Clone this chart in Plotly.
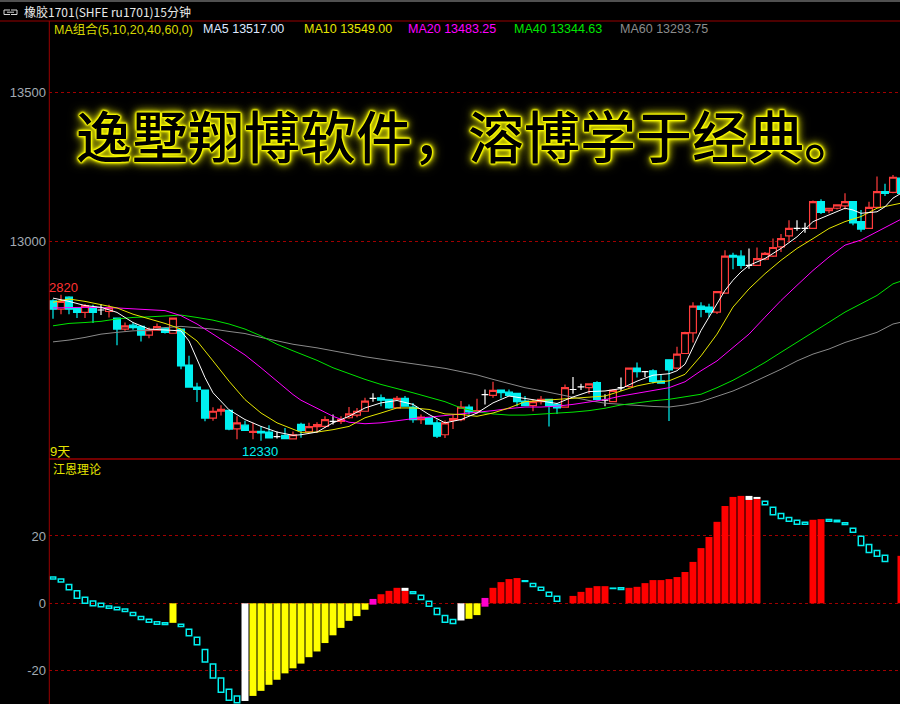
import plotly.graph_objects as go

W, H = 900, 704

# ---------------- price data: 15-minute bars of ru1701 ----------------
opens = [12800, 12772, 12812, 12776, 12761, 12778, 12769, 12764, 12742, 12705,
         12718, 12714, 12685, 12701, 12708, 12691, 12705, 12584, 12510, 12500,
         12406, 12429, 12432, 12370, 12382, 12358, 12361, 12359, 12344, 12348,
         12336, 12385, 12360, 12377, 12378, 12395, 12395, 12407, 12416, 12429,
         12472, 12474, 12469, 12440, 12472, 12443, 12401, 12407, 12390, 12350,
         12398, 12401, 12443, 12426, 12485, 12482, 12500, 12493, 12489, 12463,
         12448, 12461, 12469, 12452, 12443, 12502, 12511, 12508, 12525, 12466,
         12461, 12508, 12512, 12574, 12562, 12565, 12531, 12602, 12574, 12623,
         12692, 12782, 12779, 12762, 12826, 12953, 12950, 12919, 12919, 12940,
         12950, 12981, 13018, 13043, 13043, 13043, 13133, 13103, 13111, 13119,
         13133, 13066, 13043, 13114, 13167, 13164, 13212]
highs = [12805, 12820, 12815, 12778, 12789, 12787, 12789, 12787, 12742, 12727,
         12727, 12714, 12710, 12724, 12708, 12742, 12705, 12615, 12525, 12502,
         12442, 12449, 12432, 12412, 12397, 12390, 12378, 12382, 12361, 12373,
         12361, 12390, 12390, 12392, 12412, 12418, 12412, 12443, 12440, 12474,
         12489, 12485, 12469, 12480, 12480, 12457, 12418, 12407, 12401, 12398,
         12416, 12463, 12452, 12471, 12502, 12528, 12502, 12502, 12489, 12480,
         12469, 12480, 12469, 12457, 12519, 12544, 12521, 12521, 12530, 12486,
         12503, 12542, 12576, 12593, 12562, 12570, 12553, 12602, 12646, 12696,
         12795, 12795, 12790, 12831, 12970, 12961, 12970, 12976, 12979, 12964,
         13009, 13024, 13071, 13071, 13062, 13137, 13141, 13111, 13122, 13161,
         13133, 13105, 13133, 13218, 13193, 13223, 13215]
lows = [12740, 12755, 12755, 12742, 12742, 12725, 12752, 12744, 12651, 12699,
        12703, 12663, 12674, 12699, 12690, 12691, 12570, 12510, 12460, 12395,
        12397, 12415, 12365, 12335, 12364, 12335, 12330, 12337, 12337, 12335,
        12336, 12340, 12355, 12356, 12373, 12384, 12386, 12404, 12409, 12429,
        12461, 12446, 12437, 12438, 12446, 12390, 12386, 12384, 12339, 12339,
        12369, 12395, 12418, 12420, 12452, 12474, 12472, 12480, 12446, 12446,
        12429, 12452, 12378, 12420, 12443, 12488, 12500, 12488, 12465, 12446,
        12461, 12497, 12508, 12542, 12544, 12522, 12522, 12396, 12570, 12621,
        12660, 12745, 12745, 12756, 12826, 12906, 12908, 12908, 12919, 12936,
        12947, 12964, 12998, 13035, 13029, 13043, 13092, 13094, 13107, 13107,
        13054, 13032, 13043, 13114, 13152, 13161, 13160]
closes = [12772, 12798, 12772, 12761, 12784, 12761, 12769, 12776, 12705, 12716,
          12710, 12685, 12703, 12713, 12694, 12742, 12581, 12510, 12502, 12406,
          12429, 12435, 12369, 12390, 12365, 12361, 12356, 12339, 12344, 12337,
          12350, 12365, 12377, 12384, 12401, 12395, 12401, 12420, 12429, 12463,
          12472, 12466, 12440, 12472, 12446, 12401, 12409, 12386, 12345, 12390,
          12404, 12443, 12427, 12431, 12485, 12499, 12491, 12482, 12461, 12448,
          12461, 12469, 12448, 12440, 12508, 12502, 12511, 12521, 12469, 12466,
          12499, 12508, 12574, 12562, 12562, 12529, 12523, 12568, 12621, 12693,
          12782, 12771, 12762, 12831, 12950, 12947, 12919, 12919, 12942, 12959,
          12979, 13009, 13043, 13043, 13043, 13133, 13097, 13111, 13122, 13133,
          13062, 13041, 13114, 13167, 13161, 13215, 13161]

# ---------------- moving averages ----------------
ma5_x = [0, 2, 4, 6, 8, 10, 12, 14, 16, 17, 18, 19, 20, 22, 24, 26, 28, 30, 31, 33,
         35, 37, 39, 41, 43, 45, 47, 49, 51, 53, 55, 57, 59, 61, 63, 65, 67, 69, 71, 73,
         75, 77, 78, 79, 80, 81, 82, 83, 84, 85, 86, 87, 89, 91, 93, 95, 97, 99, 100, 101,
         103, 104, 105, 106]
ma5_y = [12809, 12798, 12784, 12778, 12761, 12727, 12705, 12701, 12699, 12665, 12603, 12542,
         12491, 12434, 12401, 12378, 12359, 12348, 12350, 12359, 12390, 12412, 12440, 12457,
         12465, 12452, 12418, 12390, 12401, 12423, 12457, 12480, 12472, 12463, 12455, 12477,
         12495, 12497, 12505, 12530, 12550, 12555, 12565, 12587, 12643, 12700, 12745, 12790,
         12835, 12869, 12897, 12919, 12942, 12976, 13015, 13066, 13088, 13111, 13105, 13094,
         13099, 13116, 13145, 13161]

ma10_x = [0, 2, 4, 6, 8, 10, 12, 14, 16, 18, 20, 22, 24, 26, 28, 30, 31, 33, 35, 37,
          39, 41, 43, 45, 47, 49, 51, 53, 55, 57, 59, 61, 63, 65, 67, 69, 71, 73, 75, 77,
          79, 81, 83, 85, 87, 89, 91, 93, 95, 97, 99, 101, 103, 105, 106]
ma10_y = [12795, 12806, 12798, 12787, 12776, 12755, 12739, 12724, 12705, 12665, 12598, 12530,
          12468, 12423, 12390, 12367, 12358, 12359, 12367, 12378, 12407, 12423, 12440, 12440,
          12435, 12420, 12418, 12412, 12423, 12440, 12461, 12465, 12469, 12472, 12476, 12480,
          12497, 12514, 12525, 12531, 12553, 12615, 12688, 12779, 12840, 12891, 12936, 12976,
          13009, 13043, 13066, 13083, 13111, 13122, 13128]

ma20_x = [0, 4, 8, 12, 14, 16, 18, 20, 22, 24, 26, 28, 30, 31, 33, 35, 37, 39, 41, 43,
          45, 47, 49, 51, 53, 55, 57, 59, 61, 63, 65, 67, 69, 71, 73, 75, 77, 79, 81, 83,
          85, 87, 89, 91, 93, 95, 97, 99, 101, 103, 105, 106]
ma20_y = [12776, 12778, 12776, 12769, 12767, 12750, 12722, 12688, 12654, 12618, 12575, 12530,
          12485, 12466, 12440, 12412, 12392, 12387, 12390, 12398, 12404, 12409, 12414, 12420,
          12426, 12431, 12438, 12443, 12443, 12446, 12452, 12461, 12468, 12480, 12490, 12499,
          12508, 12528, 12565, 12598, 12643, 12688, 12745, 12801, 12852, 12902, 12947, 12987,
          13004, 13032, 13060, 13074]

ma40_x = [0, 2, 4, 6, 8, 10, 12, 14, 16, 18, 20, 22, 24, 26, 28, 30, 31, 33, 35, 37,
          39, 41, 43, 45, 47, 49, 51, 53, 55, 57, 59, 61, 63, 65, 67, 69, 71, 73, 75, 77,
          79, 81, 83, 85, 87, 89, 91, 93, 95, 97, 99, 101, 103, 105, 106]
ma40_y = [12716, 12724, 12727, 12731, 12739, 12744, 12746, 12750, 12752, 12744, 12735, 12722,
          12705, 12682, 12654, 12632, 12622, 12600, 12575, 12555, 12536, 12519, 12506, 12491,
          12476, 12461, 12440, 12427, 12420, 12416, 12416, 12419, 12421, 12426, 12431, 12439,
          12450, 12458, 12464, 12469, 12477, 12486, 12508, 12533, 12562, 12593, 12627, 12660,
          12694, 12728, 12762, 12790, 12818, 12857, 12866]

ma60_x = [0, 2, 4, 6, 8, 10, 12, 14, 16, 18, 20, 22, 24, 26, 28, 30, 33, 36, 39, 42,
          45, 47, 49, 51, 53, 55, 57, 59, 61, 63, 65, 67, 69, 71, 73, 75, 77, 79, 81, 83,
          85, 87, 89, 91, 93, 95, 97, 99, 101, 103, 105, 106]
ma60_y = [12662, 12668, 12677, 12688, 12694, 12699, 12701, 12710, 12714, 12710, 12705, 12697,
          12690, 12677, 12665, 12654, 12642, 12627, 12612, 12600, 12589, 12581, 12573, 12562,
          12551, 12536, 12521, 12508, 12498, 12487, 12475, 12465, 12456, 12452, 12448, 12445,
          12443, 12450, 12461, 12480, 12497, 12520, 12544, 12570, 12598, 12621, 12638, 12660,
          12677, 12694, 12722, 12728]

# ---------------- 江恩理论 indicator ----------------
red_x = [41, 42, 43, 44, 55, 56, 57, 58, 65, 66, 67, 68, 69, 72, 73, 74, 75, 76, 77, 78,
         79, 80, 81, 82, 83, 84, 85, 86, 87, 88, 95, 96, 106]
red_v = [2.7, 3.7, 4.6, 3.7, 4.6, 6.3, 7.2, 7.5, 2.2, 3.4, 4.6, 5.1, 5.1, 4.6, 4.9, 6.0,
         6.9, 6.9, 7.2, 7.8, 9.3, 12.3, 16.4, 19.7, 24.2, 28.9, 31.6, 31.9, 30.7, 31.0,
         24.8, 25.0, 14.1]
cap_x = [44, 87, 88]
cap_lo = [3.7, 30.7, 31.0]
cap_hi = [4.6, 31.9, 31.6]
white_x = [24, 51]
white_v = [-29.0, -5.1]
yellow_x = [15, 25, 26, 27, 28, 29, 30, 31, 32, 33, 34, 35, 36, 37, 38, 39, 52, 53]
yellow_v = [-5.8, -27.5, -26.0, -24.2, -22.7, -20.8, -19.3, -17.9, -16.0, -14.3, -11.8,
            -9.5, -7.3, -5.2, -3.8, -1.9, -4.6, -3.5]
mag_x = [40, 54]
mag_hi = [1.3, 1.6]
mag_lo = [-0.4, -1.0]
box_x = [0, 1, 2, 3, 4, 5, 6, 7, 8, 9, 10, 11, 12, 13, 14, 16, 17, 18, 19, 20, 21, 22, 23,
         45, 46, 47, 48, 49, 50, 59, 60, 61, 62, 63, 70, 71,
         89, 90, 91, 92, 93, 94, 97, 98, 99, 100, 101, 102, 103, 104]
box_hi = [7.8, 7.2, 5.6, 3.7, 1.8, 0.7, 0.0, -0.8, -1.2, -1.7, -2.7, -3.9, -4.7, -5.5, -5.8,
          -6.2, -7.7, -10.1, -13.7, -18.0, -22.2, -25.5, -27.5,
          3.4, 2.4, 0.6, -1.5, -3.6, -4.8, 6.7, 5.9, 4.8, 3.3, 2.1, 4.5, 4.6,
          30.3, 28.5, 26.7, 25.5, 24.7, 24.1, 24.9, 24.7, 23.9, 22.3, 19.9, 17.5, 15.7, 14.3]
box_lo = [7.2, 6.3, 4.0, 1.5, 0.0, -0.7, -1.0, -1.5, -1.9, -2.4, -3.6, -4.8, -5.6, -6.2, -6.3,
          -6.9, -9.6, -12.3, -17.4, -22.2, -26.4, -28.8, -29.5,
          2.9, 1.1, -0.9, -3.3, -5.6, -6.0, 6.5, 5.0, 3.9, 2.1, 0.6, 4.4, 4.1,
          29.3, 26.3, 25.2, 24.4, 23.5, 23.5, 24.4, 24.2, 23.4, 21.1, 17.2, 15.1, 14.0, 12.4]

price_ticks = [13000, 13500]
gann_ticks = [-20, 0, 20]

# ---------------- colours ----------------
RED = "#ff3c3c"
CYAN = "#00f0f0"
GRID = "#a00000"
BORDER = "#9a0000"
TICK = "#a3abb3"


def px(x):
    return x / W


def py(y):
    return 1 - y / H


fig = go.Figure()

# candles split by direction
idx = list(range(len(opens)))
groups = {
    "up": [i for i in idx if closes[i] > opens[i]],
    "down": [i for i in idx if closes[i] < opens[i]],
    "doji": [i for i in idx if closes[i] == opens[i]],
}
styles = {
    "up": (RED, "#000000"),
    "down": (CYAN, CYAN),
    "doji": ("#ffffff", "#ffffff"),
}
for name, ids in groups.items():
    lc, fc = styles[name]
    fig.add_trace(go.Candlestick(
        x=ids,
        open=[opens[i] for i in ids], high=[highs[i] for i in ids],
        low=[lows[i] for i in ids], close=[closes[i] for i in ids],
        increasing=dict(line=dict(color=lc, width=1.2), fillcolor=fc),
        decreasing=dict(line=dict(color=lc, width=1.2), fillcolor=fc),
        whiskerwidth=0, showlegend=False, hoverinfo="skip",
        xaxis="x", yaxis="y"))

for mx, my, col in [(ma60_x, ma60_y, "#8a8a8a"), (ma40_x, ma40_y, "#00e600"),
                    (ma20_x, ma20_y, "#ff00ff"), (ma10_x, ma10_y, "#e6e600"),
                    (ma5_x, ma5_y, "#ffffff")]:
    fig.add_trace(go.Scatter(x=mx, y=my, mode="lines", line=dict(color=col, width=1),
                             showlegend=False, hoverinfo="skip", xaxis="x", yaxis="y"))

# indicator panel
BW = 0.875
fig.add_trace(go.Bar(x=red_x, y=red_v, base=0, width=BW, marker=dict(color="#ff0000", line=dict(width=0)),
                     xaxis="x", yaxis="y2", showlegend=False, hoverinfo="skip"))
fig.add_trace(go.Bar(x=cap_x, y=[h - l for h, l in zip(cap_hi, cap_lo)], base=cap_lo, width=BW,
                     marker=dict(color="#ffffff", line=dict(width=0)),
                     xaxis="x", yaxis="y2", showlegend=False, hoverinfo="skip"))
fig.add_trace(go.Bar(x=white_x, y=white_v, base=0, width=BW, marker=dict(color="#ffffff", line=dict(width=0)),
                     xaxis="x", yaxis="y2", showlegend=False, hoverinfo="skip"))
fig.add_trace(go.Bar(x=yellow_x, y=yellow_v, base=0, width=BW, marker=dict(color="#ffff00", line=dict(width=0)),
                     xaxis="x", yaxis="y2", showlegend=False, hoverinfo="skip"))
fig.add_trace(go.Bar(x=mag_x, y=[h - l for h, l in zip(mag_hi, mag_lo)], base=mag_lo, width=BW,
                     marker=dict(color="#ff00cc", line=dict(width=0)),
                     xaxis="x", yaxis="y2", showlegend=False, hoverinfo="skip"))
fig.add_trace(go.Bar(x=box_x, y=[h - l for h, l in zip(box_hi, box_lo)], base=box_lo, width=0.68,
                     marker=dict(color="rgba(0,0,0,0)", line=dict(color=CYAN, width=1.5)),
                     xaxis="x", yaxis="y2", showlegend=False, hoverinfo="skip"))

# ---------------- axes ----------------
axis_common = dict(showline=False, zeroline=False, ticks="", fixedrange=True)
fig.update_layout(
    width=W, height=H,
    margin=dict(l=0, r=0, t=0, b=0),
    paper_bgcolor="#000000", plot_bgcolor="#000000",
    template="none",
    barmode="overlay", boxgap=0.1, boxgroupgap=0.05,
    showlegend=False,
    xaxis=dict(domain=[px(49), 1], range=[-0.5, 105.875], showgrid=False, showticklabels=False,
               rangeslider=dict(visible=False), anchor="y", **axis_common),
    yaxis=dict(domain=[py(459), py(21)], range=[12268.5, 13740], tickvals=price_ticks,
               ticktext=[str(v) for v in price_ticks], showgrid=True, gridcolor=GRID,
               griddash="3px,3px", gridwidth=1, automargin=False, ticklabelstandoff=2,
               tickfont=dict(family="Liberation Sans", size=13, color=TICK), anchor="x", **axis_common),
    yaxis2=dict(domain=[0, py(459)], range=[-29.9, 42.86], tickvals=gann_ticks,
                ticktext=[str(v) for v in gann_ticks], showgrid=True, gridcolor=GRID,
                griddash="3px,3px", gridwidth=1, automargin=False, ticklabelstandoff=2,
                tickfont=dict(family="Liberation Sans", size=13, color=TICK), anchor="x", **axis_common),
)

# ---------------- frame ----------------
shapes = [
    dict(type="rect", xref="paper", yref="paper", x0=0, x1=1, y0=py(2), y1=1,
         fillcolor="#505050", line=dict(width=0)),
    dict(type="line", xref="paper", yref="paper", x0=0, x1=1, y0=py(21), y1=py(21),
         line=dict(color=BORDER, width=1)),
    dict(type="line", xref="paper", yref="paper", x0=px(49), x1=1, y0=py(459), y1=py(459),
         line=dict(color=BORDER, width=1.5)),
    dict(type="line", xref="paper", yref="paper", x0=px(49.3), x1=px(49.3), y0=0, y1=py(21),
         line=dict(color=BORDER, width=1)),
    # link icon in the title bar
    dict(type="path", xref="paper", yref="paper",
         path=f"M {px(10)},{py(10)} L {px(4)},{py(10)} L {px(4)},{py(14.5)} L {px(10)},{py(14.5)}",
         line=dict(color="#d8d8d8", width=1)),
    dict(type="path", xref="paper", yref="paper",
         path=f"M {px(11)},{py(10)} L {px(17)},{py(10)} L {px(17)},{py(14.5)} L {px(11)},{py(14.5)}",
         line=dict(color="#d8d8d8", width=1)),
    dict(type="line", xref="paper", yref="paper", x0=px(7), x1=px(14), y0=py(12.2), y1=py(12.2),
         line=dict(color="#d8d8d8", width=1)),
]
fig.update_layout(shapes=shapes)

# ---------------- texts ----------------
def note(text, x, y, color, size=12.5, family="Liberation Sans, Noto Sans CJK SC", anchor="left", **kw):
    fig.add_annotation(text=text, x=px(x), y=py(y), xref="paper", yref="paper",
                       xanchor=anchor, yanchor="middle", showarrow=False,
                       font=dict(family=family, size=size, color=color, **kw), borderpad=0)

note("橡胶1701(SHFE ru1701)15分钟", 23, 11, "#e8e8e8", size=12, family="Noto Sans CJK SC")
note("MA组合(5,10,20,40,60,0)", 53, 29.5, "#d8d800")
note("MA5 13517.00", 202, 29.5, "#dfe8ff")
note("MA10 13549.00", 303, 29.5, "#e6e600")
note("MA20 13483.25", 407, 29.5, "#ff00ff")
note("MA40 13344.63", 513, 29.5, "#00e600")
note("MA60 13293.75", 619, 29.5, "#8c8c8c")
note("2820", 48, 287, "#ff3232", size=13)
note("9天", 49, 451, "#e6e600", size=13, family="Liberation Sans, Noto Sans CJK SC")
note("12330", 241, 451, CYAN, size=13)
note("江恩理论", 52, 468, "#e6e600", size=12, family="Noto Sans CJK SC")

glow = ", ".join(["0 0 1px #ffff00"] * 3 + ["0 0 2px #ffff00"] * 3 + ["0 0 3px #ffff00"] * 2
                 + ["0 0 5px #f0f000", "0 0 8px #e0e000", "0 0 12px #b0b000"])
fig.add_annotation(
    text="逸墅翔博软件，溶博学于经典。", x=px(74), y=py(134), xref="paper", yref="paper",
    xanchor="left", yanchor="middle", showarrow=False,
    font=dict(family="Noto Sans CJK SC", size=56, color="#000000", weight=500, shadow=glow))

fig.write_html("out.html", config={"displayModeBar": False, "staticPlot": True}, post_script=(
    "document.body.style.margin='0';document.body.style.padding='0';"
    "document.documentElement.style.overflow='hidden';document.body.style.background='#000';"))
